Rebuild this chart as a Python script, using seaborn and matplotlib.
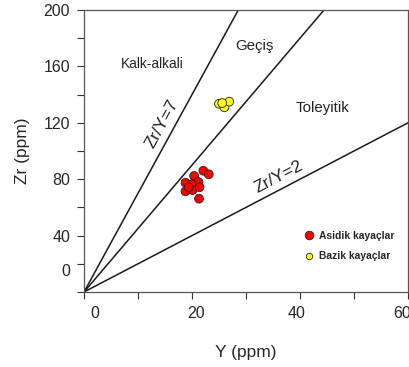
import numpy as np
import pandas as pd
import matplotlib
matplotlib.use("Agg")
import matplotlib.pyplot as plt
import matplotlib.transforms as mtransforms
import seaborn as sns

# ---- data ----
acid_y = [18.8, 20.4, 22.1, 23.1, 21.2, 19.9, 18.8, 20.1, 21.4, 21.3, 19.4]
acid_zr = [77.5, 82.3, 86.0, 83.5, 78.0, 76.4, 71.4, 72.3, 74.3, 66.2, 74.3]
basic_y = [25.0, 26.0, 26.9, 25.6]
basic_zr = [133.5, 131.0, 135.0, 134.0]
group_names = ["Asidik kayaçlar", "Bazik kayaçlar"]
group_colors = ["#ff0000", "#ffff00"]
ratios = [7, 4.5, 2]
ratio_labels = {7: "Zr/Y=7", 2: "Zr/Y=2"}
x_ticks = [0, 20, 40, 60]
x_minor = [10, 30, 50]
y_ticks = [0, 20, 40, 60, 80, 100, 120, 140, 160, 180, 200]
y_ticklabels = ["", "0", "40", "", "80", "", "120", "", "160", "", "200"]
regions = ["Kalk-alkali", "Geçiş", "Toleyitik"]

df = pd.DataFrame({
    "Y": acid_y + basic_y,
    "Zr": acid_zr + basic_zr,
    "grup": [group_names[0]] * len(acid_y) + [group_names[1]] * len(basic_y),
})

sns.set_style("white")
plt.rcParams["font.family"] = ["Liberation Sans", "DejaVu Sans"]

fig = plt.figure(figsize=(4.09, 3.67), dpi=100)
ax = fig.add_axes([84 / 409, 75 / 367, 324 / 409, 282 / 367])
ax.set_xlim(0, 60)
ax.set_ylim(0, 200)

xs = np.array([0, 60])
for r in ratios:
    ax.plot(xs, r * xs, color="#1a1a1a", lw=1.1, zorder=1)

sns.scatterplot(data=df, x="Y", y="Zr", hue="grup", palette=group_colors,
                s=40, edgecolor="#222222", linewidth=0.6, ax=ax, zorder=3, legend=True)

# legend
h, l = ax.get_legend_handles_labels()
leg = ax.legend(h, l, loc="lower left", bbox_to_anchor=(0.66, 0.095), frameon=False,
                handletextpad=0.3, labelspacing=1.0, borderaxespad=0, handlelength=1.4,
                prop={"weight": "bold", "size": 7.4})
for hd, sz in zip(leg.legend_handles, [6.2, 4.6]):
    if hasattr(hd, "set_markersize"):
        hd.set_markersize(sz)
    else:
        hd.set_sizes([sz ** 2])

# region labels
txt = dict(ha="center", va="center", color="#222222")
ax.text(12.7, 162, regions[0], fontsize=9.8, **txt)
ax.text(31.5, 174.5, regions[1], fontsize=10.8, **txt)
ax.text(44.1, 130.5, regions[2], fontsize=10.8, **txt)
ax.text(14.5, 119, ratio_labels[7], fontsize=12.5, rotation=np.degrees(np.arctan(7)),
        transform_rotates_text=True, rotation_mode="anchor", **txt)
ax.text(36, 81.5, ratio_labels[2], fontsize=12.5, rotation=np.degrees(np.arctan(2)),
        transform_rotates_text=True, rotation_mode="anchor", **txt)

# ticks
ax.set_xticks(x_ticks)
ax.set_xticks(x_minor, minor=True)
ax.set_yticks(y_ticks)
ax.set_yticklabels(y_ticklabels)
ax.tick_params(axis="both", which="both", direction="out", length=5, width=0.8,
               color="#333333", labelsize=11.5, pad=5, bottom=True, left=True)
for sp in ax.spines.values():
    sp.set_color("#555555")
    sp.set_linewidth(0.9)

ax.set_xlabel("Y (ppm)", fontsize=12.5, labelpad=17)
ax.set_ylabel("Zr (ppm)", fontsize=12.5, labelpad=10)

fig.canvas.draw()
xoff = [11, 4, -3, -6]
for t, dx in zip(ax.get_xticklabels(), xoff):
    t.set_transform(t.get_transform() + mtransforms.ScaledTranslation(dx / 100, 0, fig.dpi_scale_trans))
for t, lab in zip(ax.get_yticklabels(), y_ticklabels):
    if lab == "0":
        t.set_transform(t.get_transform() + mtransforms.ScaledTranslation(0, -6 / 100, fig.dpi_scale_trans))

fig.savefig("out.png", dpi=100)
